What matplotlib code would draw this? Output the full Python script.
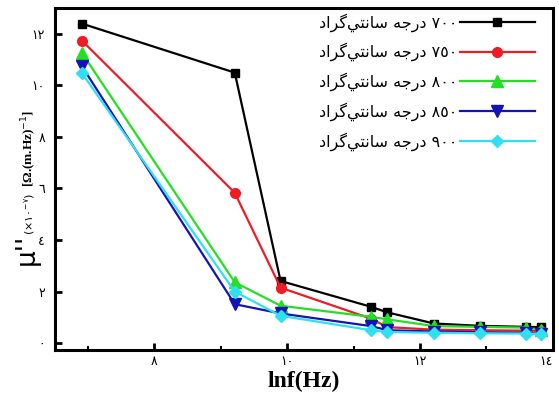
import numpy as np
import matplotlib
matplotlib.use("Agg")
from matplotlib import pyplot as plt

# data (x = ln f)
lnf = [6.91, 9.21, 9.90, 11.26, 11.51, 12.21, 12.90, 13.59, 13.82]
t700 = [12.39, 10.49, 2.41, 1.41, 1.19, 0.76, 0.67, 0.63, 0.62]
t750 = [11.73, 5.83, 2.15, 0.95, 0.62, 0.52, 0.50, 0.48, 0.47]
t800 = [11.25, 2.36, 1.45, 1.02, 0.92, 0.66, 0.63, 0.60, 0.52]
t850 = [10.73, 1.51, 1.15, 0.66, 0.50, 0.45, 0.42, 0.40, 0.36]
t900 = [10.47, 2.00, 1.06, 0.50, 0.43, 0.40, 0.38, 0.37, 0.35]

# Persian label, written in visual order with shaped letter forms
santigrad = "\uFEA9\uFE8D\uFEAE\uFB94\uFEF2\uFE98\uFEE7\uFE8E\uFEB3"
daraje = "\uFEEA\uFE9F\uFEAD\uFEA9"
temps = ["٧٠٠", "٧٥٠", "٨٠٠", "٨٥٠", "٩٠٠"]
labels = [santigrad + " " + daraje + " " + t for t in temps]

yticks = [0, 2, 4, 6, 8, 10, 12]
ytick_labels = ["٠", "٢", "٤", "٦", "٨", "١٠", "١٢"]
xticks = [8, 10, 12, 14]
xtick_labels = ["٨", "١٠", "١٢", "١٤"]

series = [t700, t750, t800, t850, t900]
colors = ["black", "#ee1c24", "#22e022", "#1414b4", "#30e0f0"]
markers = ["s", "o", "^", "v", "D"]
msizes = [6, 7, 8, 8, 6]

fig = plt.figure(figsize=(5.59, 3.96), dpi=100)
ax = fig.add_axes([0.098, 0.116, 0.891, 0.864])

for ys, c, m, ms, lab in zip(series, colors, markers, msizes, labels):
    ax.plot(lnf, ys, color=c, marker=m, markersize=ms, lw=1.6, label=lab)

ax.set_xlim(6.5, 14.0)
ax.set_ylim(-0.27, 13.0)
ax.set_xticks(xticks)
ax.set_xticklabels(xtick_labels, family="DejaVu Sans", fontsize=9)
ax.get_xticklabels()[-1].set_ha("right")
ax.set_xticks([7, 9, 11, 13], minor=True)
ax.set_yticks(yticks)
ax.set_yticklabels(ytick_labels, family="DejaVu Sans", fontsize=9)
ax.tick_params(which="major", direction="in", length=5, width=2)
ax.tick_params(axis="y", which="major", pad=7)
ax.tick_params(which="minor", direction="in", length=3, width=1.5)
for s in ax.spines.values():
    s.set_linewidth(2.2)

ax.set_xlabel("lnf(Hz)", family="Liberation Serif", fontweight="bold",
              fontsize=17, labelpad=2)

# y label in three pieces, sharing one baseline
xb = 0.060
fig.text(xb, 0.37, "μ''", rotation=90, rotation_mode="anchor",
         ha="center", va="baseline", fontsize=19, family="DejaVu Sans")
fig.text(xb, 0.46, r"$(\times١٠^{-٧})$", rotation=90, rotation_mode="anchor",
         ha="center", va="baseline", fontsize=8)
fig.text(xb, 0.626, r"[Ω.(m.Hz)$^{-1}$]", rotation=90, rotation_mode="anchor",
         ha="center", va="baseline", fontsize=9.5, family="Liberation Serif",
         fontweight="bold")

ax.legend(loc="upper right", bbox_to_anchor=(0.964, 0.985), markerfirst=False,
          handlelength=4.7, frameon=False, borderpad=0, borderaxespad=0,
          labelspacing=0.7, handletextpad=0.15,
          prop={"family": "DejaVu Sans", "size": 11.5})

fig.savefig("out.png", dpi=100)
